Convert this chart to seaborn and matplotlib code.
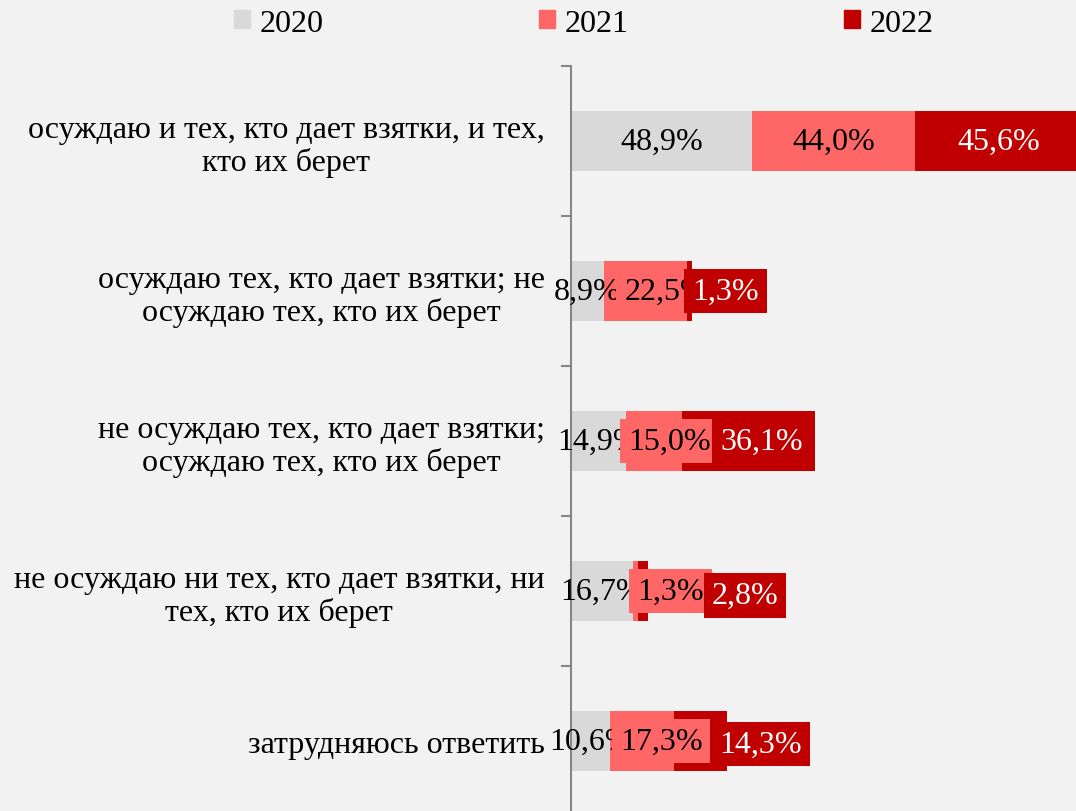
import matplotlib
matplotlib.use("Agg")
import matplotlib.pyplot as plt
import seaborn as sns
import pandas as pd
import numpy as np
from matplotlib.patches import Patch

categories = [
    "осуждаю и тех, кто дает взятки, и тех,\nкто их берет",
    "осуждаю тех, кто дает взятки; не\nосуждаю тех, кто их берет",
    "не осуждаю тех, кто дает взятки;\nосуждаю тех, кто их берет",
    "не осуждаю ни тех, кто дает взятки, ни\nтех, кто их берет",
    "затрудняюсь ответить",
]
years = ["2020", "2021", "2022"]
v2020 = [48.9, 8.9, 14.9, 16.7, 10.6]
v2021 = [44.0, 22.5, 15.0, 1.3, 17.3]
v2022 = [45.6, 1.3, 36.1, 2.8, 14.3]

colors = {"2020": "#D9D9D9", "2021": "#FF6666", "2022": "#C00000"}
text_colors = {"2020": "black", "2021": "black", "2022": "white"}
# label nudges (Excel moved overlapping labels to the right)
label_shift = {"2020": [0, 0, 0, 0, 0],
               "2021": [0, 5.4, 4.3, 9.5, 5.1],
               "2022": [0, 9.7, 3.5, 27.6, 16.2]}
label_drop = {"2020": [0, 0, 0, 0, 0],
              "2021": [0, 0, 0, 0, 0],
              "2022": [0, 0, 0, 0.027, 0.02]}

sns.set_style("white")
plt.rcParams["font.family"] = ["Liberation Serif", "DejaVu Serif"]
plt.rcParams["text.color"] = "black"
plt.rcParams["ytick.color"] = "#868686"
plt.rcParams["ytick.labelcolor"] = "black"
FS = 23

df = pd.DataFrame({"cat": categories, "2020": v2020, "2021": v2021, "2022": v2022})
cum = df[years].cumsum(axis=1)

fig = plt.figure(figsize=(10.76, 8.12), dpi=100, facecolor="#F2F2F2")
ax = fig.add_axes([571 / 1076, -5 / 812, 1 - 571 / 1076, 750 / 812])
ax.set_facecolor("#F2F2F2")

# stacked bars: draw cumulative totals from the longest down
for yr in reversed(years):
    sns.barplot(x=cum[yr], y=df["cat"], color=colors[yr], saturation=1,
                width=0.4, orient="h", errorbar=None, linewidth=0, ax=ax)

ax.set_xlim(0, 136.5)
ax.set_ylim(4.5, -0.5)
ax.set_xlabel("")
ax.set_ylabel("")

# data labels
for k, yr in enumerate(years):
    for i in range(len(categories)):
        start = cum[yr][i] - df[yr][i]
        xc = start + df[yr][i] / 2 + label_shift[yr][i]
        yc = i + label_drop[yr][i]
        txt = f"{df[yr][i]:.1f}%".replace(".", ",")
        kw = {}
        if yr != "2020":
            kw["bbox"] = dict(boxstyle="square,pad=0.25", fc=colors[yr], ec="none")
        ax.text(xc, yc, txt, ha="center", va="center", fontsize=FS,
                color=text_colors[yr], zorder=5 + k, **kw)

for s in ["top", "right", "bottom"]:
    ax.spines[s].set_visible(False)
ax.spines["left"].set_color("#868686")
ax.spines["left"].set_linewidth(1.5)

ax.set_xticks([])
ax.set_yticks(range(len(categories)))
ax.set_yticklabels(categories, fontsize=FS, color="black")
ax.set_yticks(np.arange(-0.5, len(categories), 1), minor=True)
ax.tick_params(axis="y", which="major", left=False, length=0, pad=19)
ax.tick_params(axis="y", which="minor", left=True, length=7, width=1.5, color="#868686")
for lbl in ax.get_yticklabels():
    lbl.set_multialignment("center")
    lbl.set_linespacing(1.12)

handles = [Patch(color=colors[yr], label=yr) for yr in years]
fig.legend(handles=handles, loc="center", bbox_to_anchor=(584 / 1076, 1 - 24 / 812),
           ncol=3, frameon=False, fontsize=FS, handlelength=0.5, handleheight=0.5,
           handletextpad=0.3, columnspacing=6.75, borderaxespad=0)

fig.savefig("out.png", dpi=100, facecolor=fig.get_facecolor())
